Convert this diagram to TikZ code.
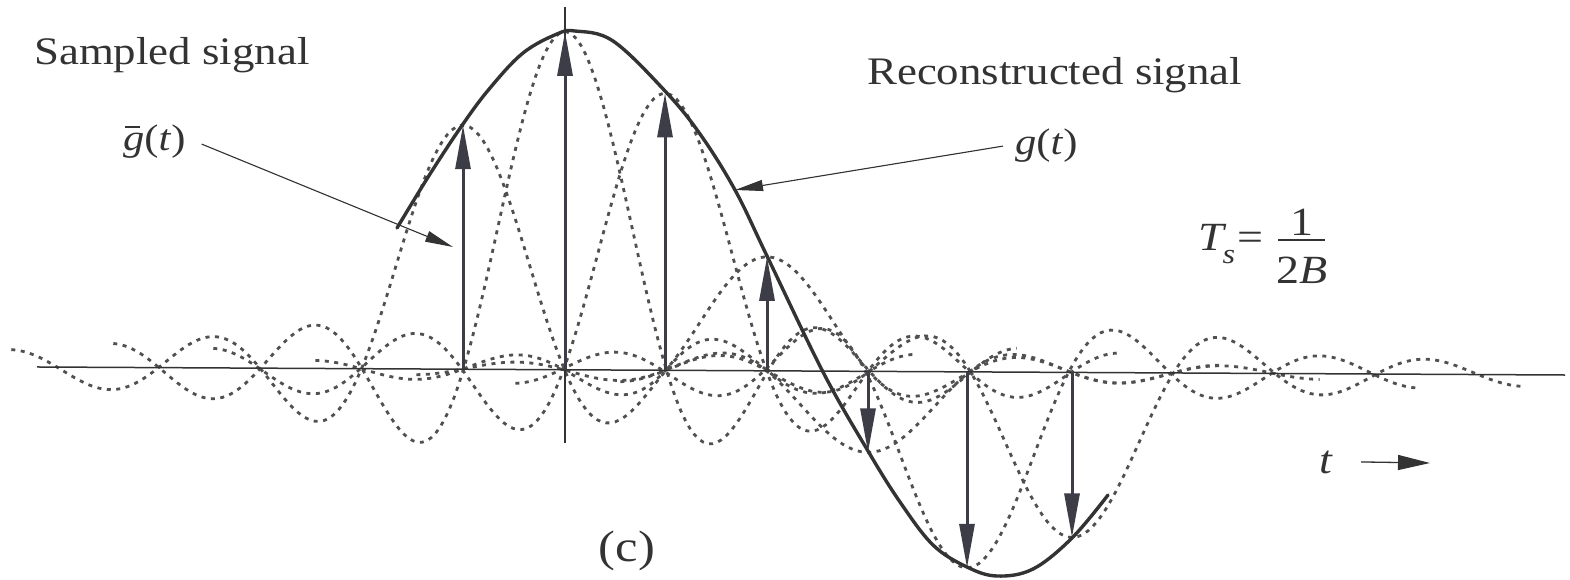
\documentclass[tikz,border=0pt]{standalone}
\usepackage{fontspec}
\setmainfont{Liberation Serif}[FakeStretch=1.15]
\usetikzlibrary{arrows.meta}
\definecolor{ink}{HTML}{333333}
\definecolor{dashc}{HTML}{505050}
\definecolor{arrc}{HTML}{3D3D47}
\newcommand{\gbarsym}{\rlap{\kern2pt\rule[23pt]{15pt}{1.5pt}}\textit{g}}
\begin{document}
\begin{tikzpicture}[x=1pt,y=-1pt,
  declare function={sincf(\u)=sin(180*\u)/(pi*\u); yA(\t)=367+0.00525*(\t-40);},
  axisline/.style={line width=1.5pt, draw=ink},
  sincline/.style={line width=2.8pt, draw=dashc, dash pattern=on 4pt off 5.5pt},
  recon/.style={line width=3.4pt, draw=ink, line join=round, line cap=round},
  samplearrow/.style={line width=3pt, draw=arrc, fill=arrc, -{Triangle[length=44pt,width=15pt]}},
  pointer/.style={line width=1.1pt, draw=ink, fill=ink, -{Triangle[length=28pt,width=11pt]}},
  lbl/.style={inner sep=0pt, text=ink, font=\fontsize{39}{47}\selectfont},
]
\useasboundingbox (0,0) rectangle (1570,580);

% sinc interpolation pulses
\foreach \c/\h in {463/244,565/338,665/277,767/114,868/-81,967/-196,1072/-165}{
  \draw[sincline] plot[domain=-4.45:4.45, samples=200] ({\c+101.5*\x},{yA(\c+101.5*\x)-(\h)*sincf(\x)});
}

% axes
\coordinate (hl) at (37,{yA(37)});
\coordinate (hr) at (1565,{yA(1565)});
\draw[axisline] (hl) -- (hr);
\coordinate (vt) at (565,7);
\coordinate (vb) at (565,443);
\draw[axisline] (vt) -- (vb);

% reconstructed signal
\draw[recon] plot[smooth, tension=0.6] coordinates {(397,228) (430,174) (463,124) (490,88) (523,53) (557,34) (575,31) (613,41) (665,91) (700,134) (735,190) (767,256) (823,372) (868,451) (900,502) (933,545) (967,567) (997,576) (1033,569) (1072,538) (1108,495)};

% samples
\foreach \c/\h [count=\i] in {463/244,565/338,665/277,767/114,868/-81,967/-196,1072/-165}{
  \coordinate (b\i) at (\c,{yA(\c)});
  \coordinate (t\i) at (\c,{yA(\c)-(\h)});
  \draw[samplearrow] (b\i) -- (t\i);
}

% labels
\node[lbl, anchor=base west] (samp) at (34,65) {Sampled signal};
\node[lbl, anchor=base west] (recl) at (867,85) {Reconstructed signal};
\node[lbl, anchor=base west, font=\fontsize{37}{44}\selectfont] (gbar) at (123,151) {\gbarsym(\textit{t})};
\node[lbl, anchor=base west, font=\fontsize{37}{44}\selectfont] (gt) at (1015,155) {\textit{g}(\textit{t})};
\coordinate (gbartip) at (453,247);
\coordinate (gtip) at (735,190);
\draw[pointer] ([xshift=16pt,yshift=-2pt]gbar.east) -- (gbartip);
\draw[pointer] ([xshift=-12pt]gt.west) -- (gtip);

% T_s = 1/2B
\node[lbl, anchor=base west, font=\fontsize{40}{48}\selectfont] (ts) at (1198,250) {\textit{T}\kern-4pt\raisebox{-13pt}{\fontsize{28}{28}\selectfont\textit{s}}\kern2pt=};
\node[lbl, font=\fontsize{40}{48}\selectfont] (one) at (1302,222) {1};
\node[lbl, font=\fontsize{40}{48}\selectfont] (twob) at (1302,270) {2\textit{B}};
\coordinate (fl) at (1278,240);
\coordinate (fr) at (1325,240);
\draw[line width=1.6pt, ink] (fl) -- (fr);

% t arrow
\node[lbl, anchor=base west, font=\fontsize{40}{48}\selectfont] (tl) at (1319,473) {\textit{t}};
\coordinate (tend) at (1430,463);
\draw[line width=1.3pt, draw=ink, fill=ink, -{Triangle[length=32pt,width=15pt]}] ([xshift=28pt]tl.east) -- (tend);

% caption
\node[lbl, font=\fontsize{44}{50}\selectfont] (cap) at (627,551) {(c)};
\end{tikzpicture}
\end{document}
